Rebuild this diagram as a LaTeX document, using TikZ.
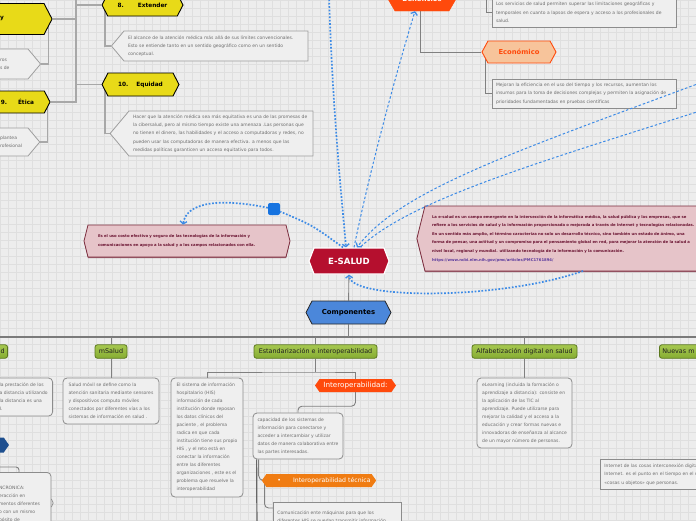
\documentclass[tikz,border=0pt]{standalone}
\usepackage{fontspec}
\setmainfont{DejaVu Sans}
\usetikzlibrary{arrows.meta,shapes.symbols,positioning,calc,shadows}
\definecolor{bgc}{HTML}{EDEDED}\definecolor{gridc}{HTML}{DFDFDF}
\definecolor{yel}{HTML}{E8DA18}\definecolor{notefill}{HTML}{EFEFEF}\definecolor{notetxt}{HTML}{6E6E6E}
\definecolor{linec}{HTML}{A8A8A8}\definecolor{busc}{HTML}{7A7A7A}
\definecolor{redor}{HTML}{FF4A0C}\definecolor{ecofill}{HTML}{F7C49B}
\definecolor{crim}{HTML}{B50F2E}\definecolor{compb}{HTML}{4B87DA}
\definecolor{pinkf}{HTML}{E6C4C9}\definecolor{pinkd}{HTML}{7B2D3E}\definecolor{pinkt}{HTML}{6B1432}\definecolor{urlc}{HTML}{5B3B9E}
\definecolor{greenf}{HTML}{86AC32}\definecolor{greenl}{HTML}{A6C750}\definecolor{greend}{HTML}{5B781E}
\definecolor{rel}{HTML}{3D8BE6}\definecolor{reld}{HTML}{1673E0}\definecolor{navy}{HTML}{1E4F8F}\definecolor{tecor}{HTML}{F07C12}
\pgfdeclarelayer{back}\pgfdeclarelayer{links}\pgfsetlayers{back,links,main}
\tikzset{yelhex/.style={shape=signal,signal to=west and east,signal pointer angle=125,draw=black,line width=.9pt,fill=yel,font=\fontsize{5.8}{7}\selectfont\bfseries,inner sep=1pt,minimum height=22},
hexnode/.style={shape=signal,signal to=west and east,inner sep=1pt},
noteL/.style={shape=signal,signal to=west,signal pointer angle=100,draw=black!38,line width=.8pt,fill=notefill,text=notetxt,align=left,inner xsep=4pt,inner ysep=2pt,font=\fontsize{4.5}{8.3}\selectfont},
noteR/.style={shape=signal,signal to=east,signal pointer angle=100,draw=black!38,line width=.8pt,fill=notefill,text=notetxt,align=left,inner xsep=2pt,inner ysep=2pt,font=\fontsize{4.5}{8.3}\selectfont},
sbox/.style={draw=black!45,line width=.8pt,fill=notefill,text=notetxt,align=left,inner xsep=4pt,inner ysep=3pt,font=\fontsize{4.5}{8.3}\selectfont},
rbox/.style={sbox,rounded corners=4pt,font=\fontsize{4.5}{8}\selectfont},
boxshadow/.style={drop shadow={shadow xshift=1.3pt,shadow yshift=-1.3pt,fill=black!50,opacity=1}},
pinkbox/.style={shape=signal,signal pointer angle=152,draw=pinkd,line width=.8pt,fill=pinkf,text=pinkt,align=left,font=\fontsize{3.8}{8.6}\selectfont\bfseries,drop shadow={shadow xshift=0pt,shadow yshift=-1pt,fill=pinkd!80,opacity=1}},
gnode/.style={draw=greend,line width=.8pt,rounded corners=2.5pt,top color=greenl,bottom color=greenf,text=black!88,font=\fontsize{6.4}{7}\selectfont,minimum height=13.5,inner xsep=3pt,inner ysep=1pt},
link/.style={draw=linec,line width=1.1pt},linkd/.style={draw=black!50,line width=.9pt},bus/.style={draw=busc,line width=1.5pt},
relA/.style={draw=rel,line width=1.7pt,dash pattern=on 1.7pt off 1.7pt},relB/.style={draw=rel,line width=1pt,dash pattern=on 2.5pt off 2pt},
relhead/.style={-{Straight Barb[length=2.6pt,width=7pt,line width=1.3pt]}}}
\begin{document}
\begin{tikzpicture}[x=1pt,y=-1pt]
\useasboundingbox (0,0) rectangle (696,520);
\begin{pgfonlayer}{back}
\fill[bgc] (0,0) rectangle (696,520);
\draw[gridc,line width=.4pt,step=8pt] (0,0) grid (696,520);
\end{pgfonlayer}
\node[yelhex,text width=50,align=left,inner xsep=2pt,minimum height=31] (enable) at (17,19) {\hspace*{8pt}\raisebox{2pt}{y}};
\node[yelhex,minimum width=81] (extender) at (142.5,5) {8.\hspace{14pt}Extender};
\node[yelhex,minimum width=77,minimum height=23] (equidad) at (140.5,84.5) {10.\hspace{8pt}Equidad};
\node[yelhex,text width=48,align=left,inner xsep=2pt] (etica) at (18.3,102) {\hspace*{6.5pt}9.\hspace{11pt}Ética};
\node[noteL,text width=176,minimum height=30] (extnote) at (216,46) {El alcance de la atención médica más allá de sus límites convencionales.\\ Esto se entiende tanto en un sentido geográfico como en un sentido\\ conceptual.};
\node[noteL,text width=176,minimum height=45] (eqnote) at (221,133.5) {Hacer que la atención médica sea más equitativa es una de las promesas de\\ la cibersalud, pero al mismo tiempo existe una amenaza .Las personas que\\ no tienen el dinero, las habilidades y el acceso a computadoras y redes, no\\ pueden usar las computadoras de manera efectiva.  a menos que las\\ medidas políticas garanticen un acceso equitativo para todos.};
\node[noteR,text width=26,minimum height=30] (enote) at (13,64) {ros\\ s de};
\node[noteR,text width=26,minimum height=28] (etnote) at (13,142) {plantea\\ rofesional};
\node[hexnode,signal pointer angle=120,fill=redor,draw=redor,text=white,font=\fontsize{6.8}{8}\selectfont\bfseries,minimum width=68,minimum height=24] (benef) at (422,-1) {Beneficios};
\node[hexnode,signal pointer angle=123,fill=ecofill,draw=redor,line width=.9pt,text=redor,font=\fontsize{6.8}{8}\selectfont\bfseries,minimum width=74,minimum height=22] (eco) at (519,52) {Económico};
\node[sbox,boxshadow,text width=176,minimum height=29] (boxa) at (584,12.5) {Los servicios de salud permiten superar las limitaciones geográficas y\\ temporales en cuanto a lapsos de espera y acceso a los profesionales de\\ salud.};
\node[sbox,boxshadow,text width=176,minimum height=29] (boxb) at (584,93.5) {Mejoran la eficiencia en el uso del tiempo y los recursos, aumentan los\\ insumos para la toma de decisiones complejas y permiten la asignación de\\ prioridades fundamentadas en pruebas científicas};
\node[hexnode,signal pointer angle=138,fill=crim,draw=white,line width=1.2pt,text=white,font=\fontsize{8.6}{10}\selectfont\bfseries,minimum width=80,minimum height=26] (esalud) at (349,261) {E-SALUD};
\node[hexnode,signal pointer angle=125,fill=compb,draw=black!85,line width=.8pt,font=\fontsize{6.9}{8}\selectfont\bfseries,minimum width=85,minimum height=23] (comp) at (348.5,312.5) {Componentes};
\node[pinkbox,signal to=west and east,text width=178,inner xsep=10pt,minimum height=32] (defbox) at (187,241) {Es el uso costo efectivo y seguro de las tecnologías de la información y\\ comunicaciones en apoyo a la salud y a los campos relacionados con ella.};
\node[pinkbox,signal to=west,text width=275,inner xsep=7pt,minimum height=65] (rpink) at (569.5,238.5) {La e-salud es un campo emergente en la intersección de la informática médica, la salud pública y las empresas, que se\\ refiere a los servicios de salud y la información proporcionada o mejorada a través de Internet y tecnologías relacionadas.\\ En un sentido más amplio, el término caracteriza no solo un desarrollo técnico, sino también un estado de ánimo, una\\ forma de pensar, una actitud y un compromiso para el pensamiento global en red, para mejorar la atención de la salud a\\ nivel local, regional y mundial. utilizando tecnología de la información y la comunicación.\\ \textcolor{urlc}{https://www.ncbi.nlm.nih.gov/pmc/articles/PMC1761894/}};
\node[fill=reld,rounded corners=2pt,minimum size=12,inner sep=0pt] (hdl) at (274,209) {};
\node[gnode,text width=30,align=right,anchor=east] (telesalud) at (8,351.5) {d};
\node[gnode,minimum width=32] (msalud) at (111,351.5) {mSalud};
\node[gnode,minimum width=123] (estand) at (315.5,351.5) {Estandarización e interoperabilidad};
\node[gnode,minimum width=105] (alfab) at (524.5,351.5) {Alfabetización digital en salud};
\node[gnode,text width=60,align=left,anchor=west] (nuevas) at (659,351.5) {Nuevas m};
\node[rbox,anchor=east,text width=66,inner xsep=2pt,minimum height=38] (telebox) at (53,397) {\leftskip=15pt la prestación de los\\ a distancia utilizando\\ la distancia es una\\ e salud.};
\node[rbox,minimum width=96,minimum height=46] (msbox) at (111,401) {Salud móvil se define como la\\ atención sanitaria mediante sensores\\ y dispositivos computo móviles\\ conectados por diferentes vías a los\\ sistemas de información en salud .};
\node[hexnode,signal pointer angle=110,fill=navy,minimum width=40,minimum height=15] (navyhex) at (-11,445) {};
\node[rbox,anchor=north,text width=63,minimum height=70,inner ysep=4pt] (asyncbox) at (15.5,472) {\leftskip=15pt NCRONICA:\\ eracción en\\ mentos diferentes\\ o con un mismo\\ pósito de\\ ción de un};
\node[rbox,minimum width=72,minimum height=119] (hisbox) at (207,437.5) {El sistema de información\\ hospitalario (HIS)\\ información de cada\\ institución  donde reposan\\ los datos clínicos del\\ paciente , el problema\\ radica en que cada\\ institución tiene sus propio\\ HIS , y el reto está en\\ conectar la información\\ entre las diferentes\\ organizaciones , este es el\\ problema que resuelve la\\ interoperabilidad};
\node[hexnode,signal pointer angle=110,fill=redor,text=white,font=\fontsize{7.2}{8}\selectfont,minimum width=81,minimum height=13] (interop) at (355.5,385.5) {Interoperabilidad:};
\node[rbox,minimum width=90,minimum height=46] (capbox) at (298,436) {capacidad de los sistemas de\\ información para conectarse y\\ acceder a intercambiar y utilizar\\ datos de manera colaborativa entre\\ las partes interesadas.};
\node[hexnode,signal pointer angle=110,fill=tecor,text=white,font=\fontsize{6.2}{7}\selectfont,minimum width=108,minimum height=13] (tecnica) at (319,480.5) {\hspace*{10pt}•\hspace{12pt}Interoperabilidad técnica};
\node[sbox,anchor=north west,text width=120,minimum height=30] (combox) at (273,502) {Comunicación ente máquinas para que los\\ diferentes HIS se puedan transmitir información};
\node[rbox,minimum width=95,minimum height=70] (alfabox) at (524.5,413) {eLearning (incluida la formación o\\ aprendizaje a distancia):  consiste en\\ la aplicación de las TIC al\\ aprendizaje. Puede utilizarse para\\ mejorar la calidad y el acceso a la\\ educación y crear formas nuevas e\\ innovadoras de enseñanza al alcance\\ de un mayor número de personas.};
\node[sbox,anchor=north west,text width=110,minimum height=30] (nuevbox) at (600,459) {Internet de las cosas interconexión digital\\ Internet. es el punto en el tiempo en el m\\ «cosas u objetos» que personas.};
\begin{pgfonlayer}{links}
\coordinate (spine) at (76,-4);
\draw[link] (spine) |- (etica.east);
\draw[link] (enable.east) -- (enable.east -| spine);
\draw[link] (extender.west) -- (extender.west -| spine);
\draw[link] (equidad.west) -- (equidad.west -| spine);
\draw[link] ([xshift=3.5pt]extender.west) |- (extnote.west);
\draw[link] ([xshift=3.5pt]equidad.west) |- (eqnote.west);
\draw[link] ([xshift=-4.5pt]enable.east) |- (enote.east);
\draw[link] ([xshift=-3pt]etica.east) |- (etnote.east);
\coordinate (atop) at (486,-4);
\draw[linkd] (atop) |- (boxa.west);
\draw[linkd] ([xshift=-2pt]benef.south) |- (eco.west);
\draw[linkd] ([xshift=4pt]eco.west) |- (boxb.west);
\draw[linkd] (esalud) -- (comp);
\coordinate (busl) at (-4,337);\coordinate (busr) at (700,337);
\draw[bus] (busl) -- (busr);
\draw[linkd] (comp) -- (comp |- busl);
\foreach \n in {msalud,estand,alfab}{\draw[linkd] (\n) -- (\n |- busl);}
\draw[linkd] (msalud) -- (msbox);
\draw[linkd] (alfab) -- (alfabox);
\coordinate (ej) at (315.5,372);
\draw[linkd] (estand) -- (ej);
\draw[linkd] (hisbox.north) |- (ej) -| (interop.north);
\draw[linkd,rounded corners=4pt] (interop.south) -- ++(0,14) -| (capbox.north);
\coordinate (capdown) at (257,530);
\draw[linkd,line width=1.2pt,black!60] ([xshift=4pt]capbox.south west) -- (capdown);
\draw[linkd,rounded corners=5pt] ([xshift=6pt]capbox.south west) |- (tecnica.west);
\draw[linkd,rounded corners=4pt] ([xshift=3pt]tecnica.west) |- ($(combox.north west)+(0,6)$);
\coordinate (tabc) at (19,467);
\draw[linkd,rounded corners=3pt] (navyhex.south) |- (tabc) -- (tabc |- asyncbox.north);
\end{pgfonlayer}
\draw[draw=black!45,line width=.7pt] ($(asyncbox.north east)+(0,27)$) -- ++(1.8,4) -- ++(-1.8,4);
\coordinate (tops) at (329,-4);
\draw[relA,relhead] (tops) .. controls (333,120) and (342,200) .. ([xshift=-3pt]esalud.north);
\draw[relB,relhead] ([xshift=5pt]esalud.north) .. controls (372,160) and (400,60) .. ([xshift=-7pt]benef.south);
\coordinate (ra) at (700,83);\coordinate (rb) at (700,111);
\draw[relB,relhead] (ra) .. controls (520,150) and (400,190) .. ([xshift=8pt]esalud.north);
\draw[relB] (rb) .. controls (540,162) and (410,200) .. ([xshift=11pt]esalud.north);
\draw[relA] ([xshift=-6pt]esalud.north) .. controls (312,225) .. (hdl);
\draw[relA,relhead] (hdl) .. controls (215,197) and (186,204) .. ([xshift=-4pt]defbox.north);
\coordinate (bs) at (583,271);
\draw[relA,relhead] (bs) .. controls (500,300) and (350,300) .. (esalud.south);
\end{tikzpicture}
\end{document}
